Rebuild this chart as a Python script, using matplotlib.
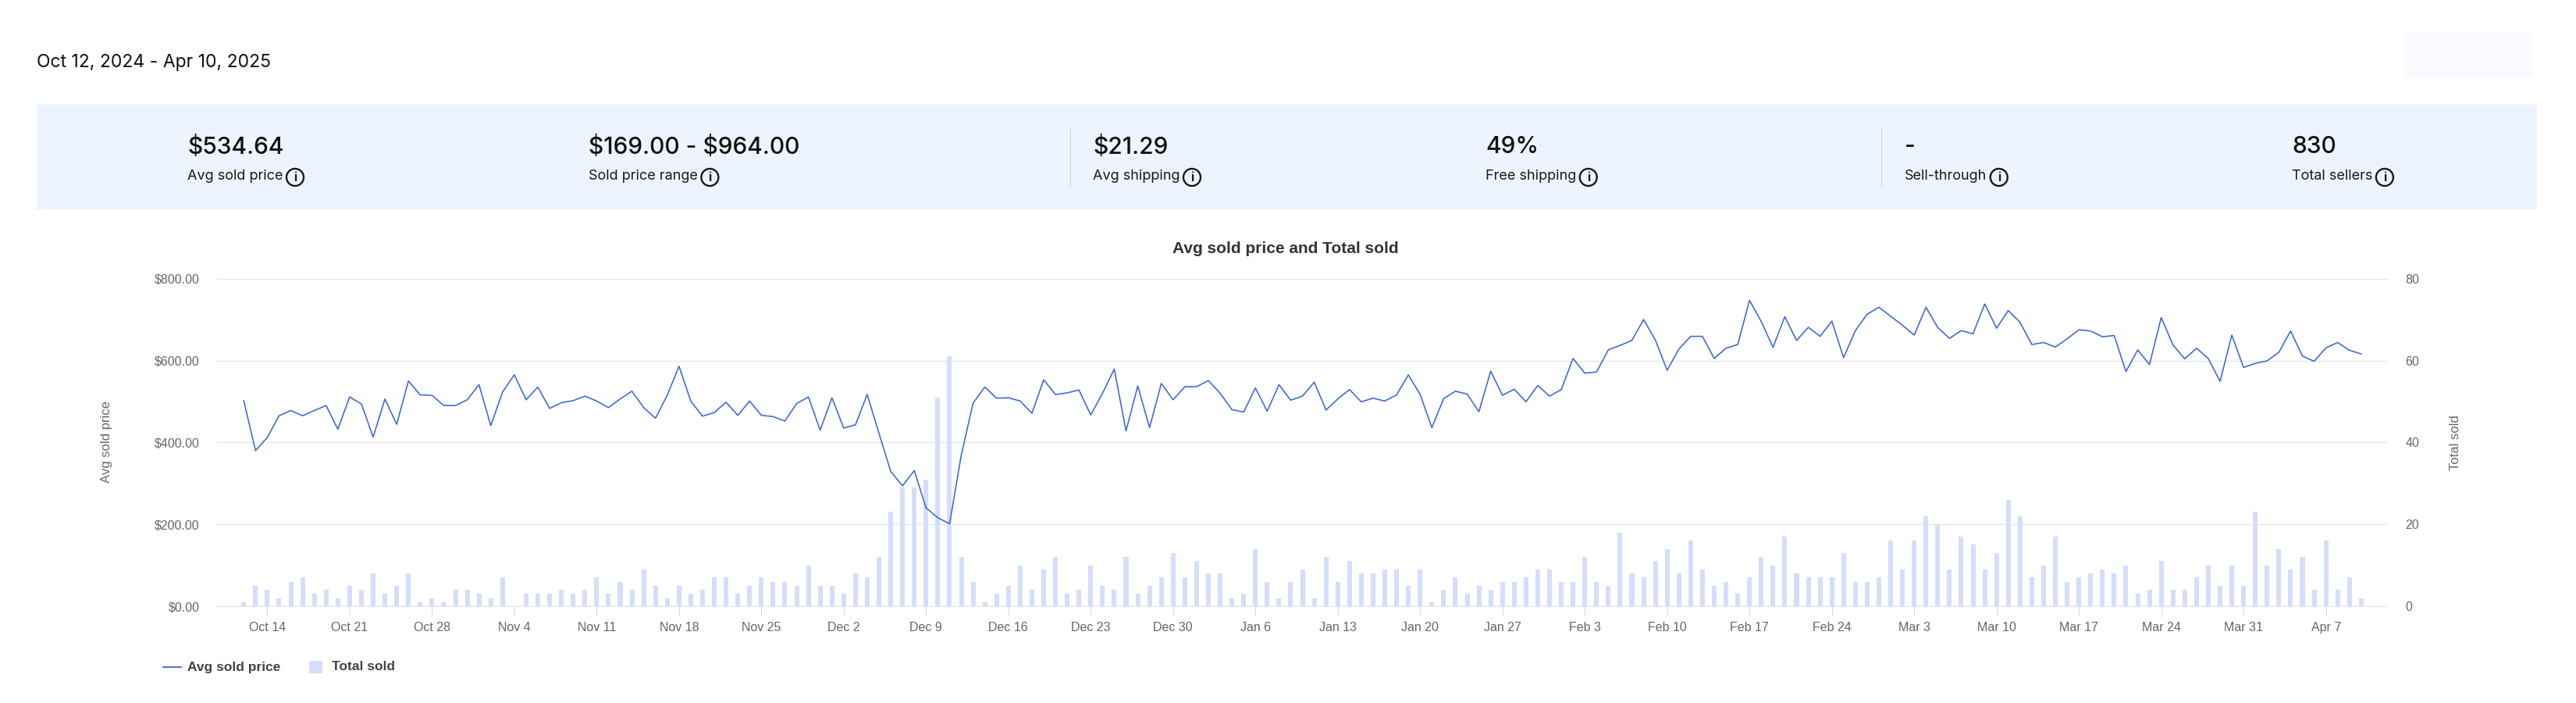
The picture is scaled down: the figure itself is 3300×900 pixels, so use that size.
import matplotlib
matplotlib.use("Agg")
import matplotlib.pyplot as plt
import matplotlib.ticker as mticker
from matplotlib.patches import Rectangle, Circle, FancyBboxPatch
from matplotlib.lines import Line2D
import pandas as pd

# ---------------- data ----------------
date_range_text = "Oct 12, 2024 - Apr 10, 2025"
stat_values = ["$534.64", "$169.00 - $964.00", "$21.29", "49%", "-", "830"]
stat_labels = ["Avg sold price", "Sold price range", "Avg shipping",
               "Free shipping", "Sell-through", "Total sellers"]

first_day = "2024-10-12"
avg_price = [
    502, 380, 412, 465, 478, 465, 478, 490, 432, 511, 494, 413, 506, 444, 550,
    516, 515, 490, 490, 504, 541, 441, 523, 565, 504, 535, 483, 497, 502, 513,
    501, 485, 506, 525, 485, 459, 515, 586, 501, 464, 473, 498, 466, 501, 466,
    463, 452, 495, 511, 430, 509, 435, 443, 517, 422, 329, 294, 331, 240, 216, 201,
    370, 496, 535, 508, 509, 501, 471, 553, 517, 521, 528, 467, 520, 579, 428,
    538, 436, 544, 504, 536, 536, 551, 520, 480, 474, 533, 476, 541, 503, 513, 547,
    479, 506, 529, 499, 508, 501, 516, 565, 517, 436, 507, 525, 518, 475, 574,
    515, 530, 499, 539, 513, 529, 605, 569, 572, 626, 637, 649, 700, 650, 576, 628,
    659, 659, 605, 630, 639, 747, 695, 632, 707, 649, 681, 659, 696, 607, 673,
    713, 730, 708, 686, 662, 730, 681, 654, 673, 665, 738, 679, 722, 693, 639, 644,
    633, 653, 675, 672, 658, 661, 573, 626, 590, 705, 638, 604, 630, 605, 549,
    662, 583, 593, 599, 620, 672, 611, 598, 631, 644, 625, 616,
]
total_sold = [
    1, 5, 4, 2, 6, 7, 3, 4, 2, 5, 4, 8, 3, 5, 8, 1, 2, 1, 4, 4, 3, 2, 7, 0, 3, 3, 3, 4, 3, 4,
    7, 3, 6, 4, 9, 5, 2, 5, 3, 4, 7, 7, 3, 5, 7, 6, 6, 5, 10, 5, 5, 3, 8, 7, 12, 23, 29, 29, 31, 51, 61,
    12, 6, 1, 3, 5, 10, 4, 9, 12, 3, 4, 10, 5, 4, 12, 3, 5, 7, 13, 7, 11, 8, 8, 2, 3, 14, 6, 2, 6, 9, 2,
    12, 6, 11, 8, 8, 9, 9, 5, 9, 1, 4, 7, 3, 5, 4, 6, 6, 7, 9, 9, 6, 6, 12, 6, 5, 18, 8, 7, 11, 14, 8,
    16, 9, 5, 6, 3, 7, 12, 10, 17, 8, 7, 7, 7, 13, 6, 6, 7, 16, 9, 16, 22, 20, 9, 17, 15, 9, 13, 26, 22, 7, 10,
    17, 6, 7, 8, 9, 8, 10, 3, 4, 11, 4, 4, 7, 10, 5, 10, 5, 23, 10, 14, 9, 12, 4, 16, 4, 7, 2,
]
price_ticks = [0, 200, 400, 600, 800]
sold_ticks = [0, 20, 40, 60, 80]

dates = pd.date_range(first_day, periods=len(avg_price), freq="D")
week_ticks = pd.date_range("2024-10-14", "2025-04-07", freq="7D")

# ---------------- layout helpers (pixels of a 3300x900 image) ----------------
DPI = 100
W, H = 3300, 900


def fx(px):
    return px / W


def fy(py):
    return 1 - py / H


def esc(s):
    # keep "$" literal, not mathtext
    return s.replace("$", r"\$")


LINE_C = "#3d66d9"
BAR_C = "#d5ddfa"
GRID_C = "#e6e6e6"
CHART_FONT = ["Liberation Sans", "DejaVu Sans"]
TOP_FONT = ["Inter", "DejaVu Sans"]

fig = plt.figure(figsize=(W / DPI, H / DPI), dpi=DPI)
fig.patch.set_facecolor("white")

# faint blurred element top right
fig.add_artist(FancyBboxPatch((fx(3080), fy(100)), fx(165), 60 / H,
                              boxstyle="round,pad=0,rounding_size=0.004",
                              transform=fig.transFigure, fc="#f8fafd", ec="none"))

fig.text(fx(47), fy(80), date_range_text, fontsize=16.5, family=TOP_FONT,
         color="#111111", va="center", ha="left")

# summary panel
fig.add_artist(Rectangle((fx(47), fy(268)), fx(3250 - 47), 134 / H,
                         transform=fig.transFigure, fc="#edf4ff", ec="none", zorder=0))
for xd in [1371, 2410]:
    fig.add_artist(Line2D([fx(xd), fx(xd)], [fy(164), fy(238)],
                          transform=fig.transFigure, color="#cfd4dc", lw=0.8))

stat_x = [240, 754, 1400, 1903, 2440, 2936]
label_texts = []
for x0, val, lab in zip(stat_x, stat_values, stat_labels):
    fig.text(fx(x0), fy(188), esc(val), fontsize=21.5, family=TOP_FONT, weight="medium",
             color="#111111", va="center", ha="left")
    t = fig.text(fx(x0), fy(226), lab, fontsize=13, family=TOP_FONT,
                 color="#191919", va="center", ha="left")
    label_texts.append(t)

fig.canvas.draw()
renderer = fig.canvas.get_renderer()
for t in label_texts:
    bb = t.get_window_extent(renderer)
    cx = bb.x1 + 4 + 11.5
    cy = H - 227
    fig.add_artist(Circle((cx / DPI, cy / DPI), 11 / DPI, transform=fig.dpi_scale_trans,
                          fill=False, ec="#191919", lw=1.7))
    fig.text(cx / DPI, cy / DPI - 0.005, "i", transform=fig.dpi_scale_trans, fontsize=11,
             weight="bold", family=TOP_FONT, color="#191919", ha="center", va="center")

# ---------------- chart ----------------
ax = fig.add_axes([fx(277.6), fy(776), fx(3058 - 277.6), (776 - 356.7) / H])
ax2 = ax.twinx()
ax.set_zorder(ax2.get_zorder() + 1)
ax.patch.set_visible(False)

ax2.bar(dates, total_sold, width=0.4, color=BAR_C, zorder=2)
ax.plot(dates, avg_price, color=LINE_C, lw=1.15, zorder=3)

x_lo = dates[0] - pd.Timedelta(hours=2.3 * 24)
x_hi = dates[0] + pd.Timedelta(hours=182.2 * 24)
ax.set_xlim(x_lo, x_hi)
ax.set_ylim(0, 800)
ax2.set_ylim(0, 80)
ax.set_yticks(price_ticks)
ax2.set_yticks(sold_ticks)
ax.yaxis.set_major_formatter(mticker.FuncFormatter(lambda v, p: esc(f"${v:,.2f}")))
ax2.yaxis.set_major_formatter(mticker.FuncFormatter(lambda v, p: f"{int(v)}"))

ax.set_xticks(week_ticks)
ax.set_xticklabels([f"{d:%b} {d.day}" for d in week_ticks])

ax2.yaxis.grid(True, color=GRID_C, lw=0.9)
ax2.set_axisbelow(True)

for a in (ax, ax2):
    for s in a.spines.values():
        s.set_visible(False)
for side in ("bottom", "top"):
    ax2.spines[side].set_visible(True)
    ax2.spines[side].set_color(GRID_C)
    ax2.spines[side].set_linewidth(0.9)

ax.tick_params(axis="x", length=8.6, width=0.75, color="#ccd6eb", pad=6,
               labelsize=11.5, labelcolor="#666666")
ax.tick_params(axis="y", length=0, pad=16, labelsize=11.5, labelcolor="#666666")
ax2.tick_params(axis="y", length=0, pad=17, labelsize=11.5, labelcolor="#666666")
ax2.tick_params(axis="x", length=0)
for lab in ax.get_xticklabels() + ax.get_yticklabels() + ax2.get_yticklabels():
    lab.set_family(CHART_FONT)

fig.text(fx(1647), fy(318), "Avg sold price and Total sold", fontsize=15, weight="bold",
         family=CHART_FONT, color="#333333", ha="center", va="center")
fig.text(fx(137), fy(566), "Avg sold price", rotation=90, fontsize=12,
         family=CHART_FONT, color="#666666", ha="center", va="center")
fig.text(fx(3146), fy(567), "Total sold", rotation=90, fontsize=12,
         family=CHART_FONT, color="#666666", ha="center", va="center")

# legend
LEG_Y = 854
fig.add_artist(Line2D([fx(209), fx(232)], [fy(LEG_Y), fy(LEG_Y)],
                      transform=fig.transFigure, color=LINE_C, lw=1.3))
fig.text(fx(240), fy(LEG_Y), "Avg sold price", fontsize=12.5, weight="bold",
         family=CHART_FONT, color="#444444", ha="left", va="center")
fig.add_artist(Rectangle((fx(396), fy(LEG_Y + 8)), fx(16.5), 16.5 / H,
                         transform=fig.transFigure, fc=BAR_C, ec="none"))
fig.text(fx(425), fy(LEG_Y), "Total sold", fontsize=12.5, weight="bold",
         family=CHART_FONT, color="#444444", ha="left", va="center")

fig.savefig("out.png", dpi=DPI, facecolor="white")
